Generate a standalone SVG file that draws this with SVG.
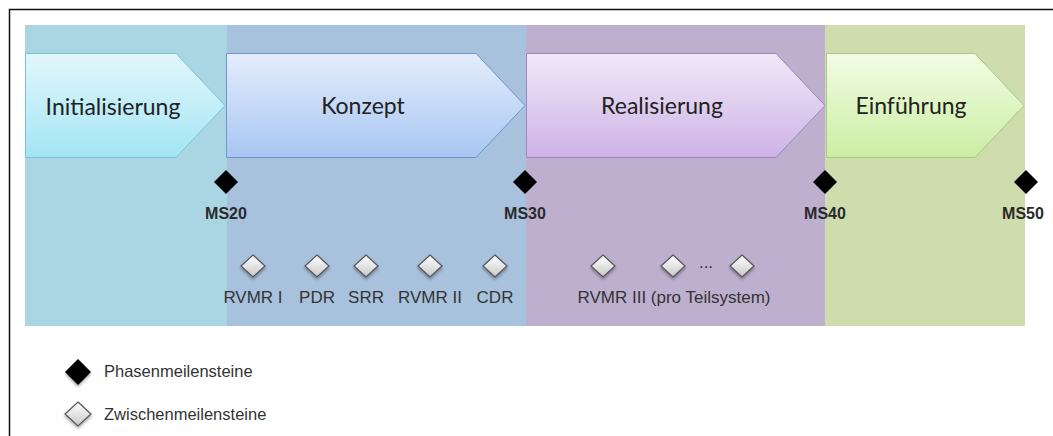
<svg xmlns="http://www.w3.org/2000/svg" width="1053" height="436" viewBox="0 0 1053 436">
<style>
.phase{font-family:Lato,"Open Sans","Liberation Sans",sans-serif;font-size:23px;fill:#222;text-anchor:middle}
.ms{font-family:"Liberation Sans",Arial,sans-serif;font-size:16px;fill:#2a2a2a;text-anchor:middle;font-weight:bold}
.sub{font-family:"Liberation Sans",Arial,sans-serif;font-size:17px;fill:#333;text-anchor:middle}
.leg{font-family:"Liberation Sans",Arial,sans-serif;font-size:16.5px;fill:#333}
.black{fill:#000}
.white{fill:url(#gw);stroke:#555;stroke-width:1.2;filter:url(#sh)}
</style>
<defs>
<linearGradient id="g1" x1="0" y1="0" x2="0" y2="1"><stop offset="0" stop-color="#E2F7FC"/><stop offset="1" stop-color="#A3E5F4"/></linearGradient>
<linearGradient id="g2" x1="0" y1="0" x2="0" y2="1"><stop offset="0" stop-color="#E4EDFC"/><stop offset="1" stop-color="#A7C6F2"/></linearGradient>
<linearGradient id="g3" x1="0" y1="0" x2="0" y2="1"><stop offset="0" stop-color="#F1E8F9"/><stop offset="1" stop-color="#CDB3E6"/></linearGradient>
<linearGradient id="g4" x1="0" y1="0" x2="0" y2="1"><stop offset="0" stop-color="#F2FCE4"/><stop offset="1" stop-color="#CBEEA3"/></linearGradient>
<linearGradient id="gw" x1="0" y1="0" x2="0" y2="1"><stop offset="0" stop-color="#FFFFFF"/><stop offset="1" stop-color="#C8C8C8"/></linearGradient>
<filter id="sh" x="-50%" y="-50%" width="200%" height="200%"><feDropShadow dx="0" dy="2" stdDeviation="1.5" flood-color="#000" flood-opacity="0.35"/></filter>
</defs>
<rect x="0" y="0" width="1053" height="436" fill="#fff"/>
<rect x="9.5" y="9.5" width="1060" height="440" fill="none" stroke="#111" stroke-width="1.5"/>
<g id="bands">
<rect x="25" y="25" width="202" height="301" fill="#A9D6E2"/>
<rect x="227" y="25" width="299" height="301" fill="#A8C1DD"/>
<rect x="526" y="25" width="299" height="301" fill="#BEAFCF"/>
<rect x="825" y="25" width="200" height="301" fill="#CFDDAE"/>
</g>
<g id="phase-init">
<path d="M25.5 53.5 H176 L225 105.5 L176 157.5 H25.5 Z" fill="url(#g1)" stroke="#7CC3D5" stroke-width="1"/>
<text class="phase" x="113" y="115">Initialisierung</text>
</g>
<g id="phase-konzept">
<path d="M226.5 53.5 H476 L525 105.5 L476 157.5 H226.5 Z" fill="url(#g2)" stroke="#6D96C9" stroke-width="1"/>
<text class="phase" x="363" y="114">Konzept</text>
</g>
<g id="phase-real">
<path d="M526.5 53.5 H776 L825 105.5 L776 157.5 H526.5 Z" fill="url(#g3)" stroke="#9E86C1" stroke-width="1"/>
<text class="phase" x="662" y="114">Realisierung</text>
</g>
<g id="phase-einf">
<path d="M826.5 53.5 H975 L1024 105.5 L975 157.5 H826.5 Z" fill="url(#g4)" stroke="#A7C98A" stroke-width="1"/>
<text class="phase" x="911" y="114">Einführung</text>
</g>
<g id="connectors"></g>
<g id="ms20"><path class="black" d="M226 170 L238 182 L226 194 L214 182 Z"/><text class="ms" x="226" y="219">MS20</text></g>
<g id="ms30"><path class="black" d="M525 170 L537 182 L525 194 L513 182 Z"/><text class="ms" x="525" y="219">MS30</text></g>
<g id="ms40"><path class="black" d="M825 170 L837 182 L825 194 L813 182 Z"/><text class="ms" x="825" y="219">MS40</text></g>
<g id="ms50"><path class="black" d="M1026 170 L1038 182 L1026 194 L1014 182 Z"/><text class="ms" x="1023" y="219">MS50</text></g>
<g id="rvmr1"><path class="white" d="M253 255 L265 266 L253 277 L241 266 Z"/><text class="sub" x="253" y="303">RVMR I</text></g>
<g id="pdr"><path class="white" d="M317 255 L329 266 L317 277 L305 266 Z"/><text class="sub" x="317" y="303">PDR</text></g>
<g id="srr"><path class="white" d="M366 255 L378 266 L366 277 L354 266 Z"/><text class="sub" x="366" y="303">SRR</text></g>
<g id="rvmr2"><path class="white" d="M430 255 L442 266 L430 277 L418 266 Z"/><text class="sub" x="430" y="303">RVMR II</text></g>
<g id="cdr"><path class="white" d="M495 255 L507 266 L495 277 L483 266 Z"/><text class="sub" x="495" y="303">CDR</text></g>
<g id="rvmr3">
<path class="white" d="M603 255 L615 266 L603 277 L591 266 Z"/>
<path class="white" d="M673 255 L685 266 L673 277 L661 266 Z"/>
<path class="white" d="M742 255 L754 266 L742 277 L730 266 Z"/>
<text class="sub" x="706" y="268" font-size="13">...</text>
<text class="sub" x="674" y="303">RVMR III (pro Teilsystem)</text>
</g>
<g id="legend">
<path class="black" d="M78 359 L91 372 L78 385 L65 372 Z" filter="url(#sh)"/>
<text class="leg" x="104" y="377">Phasenmeilensteine</text>
<path class="white" d="M78 402 L91 414 L78 426 L65 414 Z"/>
<text class="leg" x="104" y="420">Zwischenmeilensteine</text>
</g>
</svg>
